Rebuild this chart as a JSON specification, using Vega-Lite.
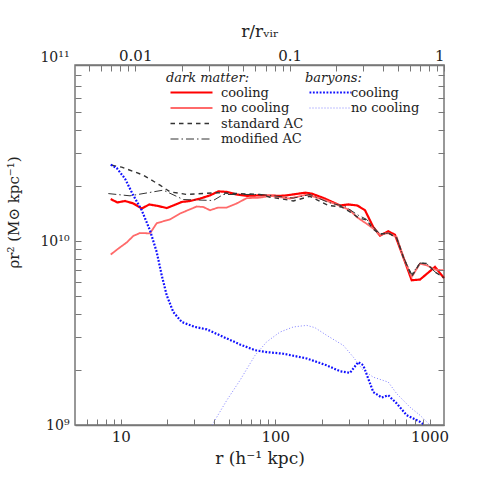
{
  "$schema": "https://vega.github.io/schema/vega-lite/v6.json",
  "width": 369,
  "height": 360,
  "autosize": "none",
  "padding": {"left": 75, "top": 65, "right": 41, "bottom": 60},
  "background": "white",
  "config": {
    "font": "DejaVu Serif",
    "view": {"stroke": "#777", "strokeWidth": 1.5},
    "axis": {"labelFont": "DejaVu Serif", "titleFont": "DejaVu Serif", "labelFontSize": 15, "titleFontSize": 17, "titleFontWeight": "normal", "labelColor": "#222", "titleColor": "#222", "grid": false, "labelOverlap": false},
    "legend": {"labelFont": "DejaVu Serif", "titleFont": "DejaVu Serif", "labelFontSize": 13, "titleFontSize": 13, "titleFontWeight": "normal", "titleFontStyle": "italic", "labelColor": "#222", "titleColor": "#222"}
  },
  "datasets": {
    "dm": [
      {"label": "cooling", "r": 8.6, "v": 1.69e10},
      {"label": "cooling", "r": 9.49, "v": 1.62e10},
      {"label": "cooling", "r": 10.65, "v": 1.65e10},
      {"label": "cooling", "r": 12.05, "v": 1.60e10},
      {"label": "cooling", "r": 13.66, "v": 1.50e10},
      {"label": "cooling", "r": 15.29, "v": 1.58e10},
      {"label": "cooling", "r": 17.49, "v": 1.55e10},
      {"label": "cooling", "r": 19.83, "v": 1.51e10},
      {"label": "cooling", "r": 21.88, "v": 1.56e10},
      {"label": "cooling", "r": 24.8, "v": 1.63e10},
      {"label": "cooling", "r": 28.07, "v": 1.65e10},
      {"label": "cooling", "r": 32.58, "v": 1.70e10},
      {"label": "cooling", "r": 37.82, "v": 1.77e10},
      {"label": "cooling", "r": 42.81, "v": 1.86e10},
      {"label": "cooling", "r": 48.52, "v": 1.85e10},
      {"label": "cooling", "r": 56.31, "v": 1.79e10},
      {"label": "cooling", "r": 65.38, "v": 1.76e10},
      {"label": "cooling", "r": 79.71, "v": 1.77e10},
      {"label": "cooling", "r": 107.4, "v": 1.76e10},
      {"label": "cooling", "r": 118.7, "v": 1.77e10},
      {"label": "cooling", "r": 156.0, "v": 1.83e10},
      {"label": "cooling", "r": 172.4, "v": 1.81e10},
      {"label": "cooling", "r": 210.2, "v": 1.70e10},
      {"label": "cooling", "r": 262.8, "v": 1.56e10},
      {"label": "cooling", "r": 297.5, "v": 1.58e10},
      {"label": "cooling", "r": 340.2, "v": 1.56e10},
      {"label": "cooling", "r": 381.6, "v": 1.47e10},
      {"label": "cooling", "r": 431.9, "v": 1.19e10},
      {"label": "cooling", "r": 477.3, "v": 1.07e10},
      {"label": "cooling", "r": 540.2, "v": 1.13e10},
      {"label": "cooling", "r": 597.0, "v": 1.08e10},
      {"label": "cooling", "r": 675.5, "v": 8.18e9},
      {"label": "cooling", "r": 765.9, "v": 6.12e9},
      {"label": "cooling", "r": 866.9, "v": 6.17e9},
      {"label": "cooling", "r": 1084, "v": 7.23e9},
      {"label": "cooling", "r": 1240, "v": 6.29e9},
      {"label": "no cooling", "r": 8.6, "v": 8.44e9},
      {"label": "no cooling", "r": 9.63, "v": 9.09e9},
      {"label": "no cooling", "r": 10.92, "v": 9.82e9},
      {"label": "no cooling", "r": 12.05, "v": 1.065e10},
      {"label": "no cooling", "r": 13.31, "v": 1.105e10},
      {"label": "no cooling", "r": 15.46, "v": 1.10e10},
      {"label": "no cooling", "r": 17.08, "v": 1.25e10},
      {"label": "no cooling", "r": 20.83, "v": 1.31e10},
      {"label": "no cooling", "r": 24.17, "v": 1.41e10},
      {"label": "no cooling", "r": 31.02, "v": 1.54e10},
      {"label": "no cooling", "r": 34.22, "v": 1.53e10},
      {"label": "no cooling", "r": 37.82, "v": 1.47e10},
      {"label": "no cooling", "r": 42.81, "v": 1.52e10},
      {"label": "no cooling", "r": 48.52, "v": 1.52e10},
      {"label": "no cooling", "r": 56.31, "v": 1.60e10},
      {"label": "no cooling", "r": 65.38, "v": 1.71e10},
      {"label": "no cooling", "r": 79.71, "v": 1.72e10},
      {"label": "no cooling", "r": 92.5, "v": 1.76e10},
      {"label": "no cooling", "r": 124.7, "v": 1.70e10},
      {"label": "no cooling", "r": 160.0, "v": 1.79e10},
      {"label": "no cooling", "r": 205.0, "v": 1.68e10},
      {"label": "no cooling", "r": 250.2, "v": 1.58e10},
      {"label": "no cooling", "r": 305.1, "v": 1.47e10},
      {"label": "no cooling", "r": 337.2, "v": 1.35e10},
      {"label": "no cooling", "r": 391.4, "v": 1.24e10},
      {"label": "no cooling", "r": 431.9, "v": 1.17e10},
      {"label": "no cooling", "r": 477.3, "v": 1.08e10},
      {"label": "no cooling", "r": 540.2, "v": 1.105e10},
      {"label": "no cooling", "r": 612.4, "v": 1.05e10},
      {"label": "no cooling", "r": 675.5, "v": 8.18e9},
      {"label": "no cooling", "r": 765.9, "v": 6.37e9},
      {"label": "no cooling", "r": 866.9, "v": 7.54e9},
      {"label": "no cooling", "r": 958, "v": 7.38e9},
      {"label": "no cooling", "r": 1084, "v": 6.99e9},
      {"label": "no cooling", "r": 1240, "v": 6.93e9},
      {"label": "standard AC", "r": 8.73, "v": 2.58e10},
      {"label": "standard AC", "r": 10.13, "v": 2.52e10},
      {"label": "standard AC", "r": 13.99, "v": 2.28e10},
      {"label": "standard AC", "r": 17.94, "v": 2.01e10},
      {"label": "standard AC", "r": 20.83, "v": 1.85e10},
      {"label": "standard AC", "r": 26.72, "v": 1.79e10},
      {"label": "standard AC", "r": 41.79, "v": 1.83e10},
      {"label": "standard AC", "r": 79.7, "v": 1.79e10},
      {"label": "standard AC", "r": 92.5, "v": 1.73e10},
      {"label": "standard AC", "r": 107.4, "v": 1.70e10},
      {"label": "standard AC", "r": 131.0, "v": 1.65e10},
      {"label": "standard AC", "r": 168.1, "v": 1.75e10},
      {"label": "standard AC", "r": 220.8, "v": 1.56e10},
      {"label": "standard AC", "r": 269.6, "v": 1.53e10},
      {"label": "standard AC", "r": 305.1, "v": 1.44e10},
      {"label": "standard AC", "r": 345.4, "v": 1.34e10},
      {"label": "standard AC", "r": 391.4, "v": 1.30e10},
      {"label": "standard AC", "r": 431.9, "v": 1.16e10},
      {"label": "standard AC", "r": 477.3, "v": 1.09e10},
      {"label": "standard AC", "r": 540.2, "v": 1.105e10},
      {"label": "standard AC", "r": 612.4, "v": 1.04e10},
      {"label": "standard AC", "r": 675.5, "v": 8.18e9},
      {"label": "standard AC", "r": 765.9, "v": 6.43e9},
      {"label": "standard AC", "r": 866.9, "v": 7.59e9},
      {"label": "standard AC", "r": 958, "v": 7.54e9},
      {"label": "standard AC", "r": 1084, "v": 6.79e9},
      {"label": "standard AC", "r": 1240, "v": 6.31e9},
      {"label": "modified AC", "r": 8.3, "v": 1.81e10},
      {"label": "modified AC", "r": 11.47, "v": 1.76e10},
      {"label": "modified AC", "r": 18.85, "v": 1.89e10},
      {"label": "modified AC", "r": 25.4, "v": 1.68e10},
      {"label": "modified AC", "r": 39.72, "v": 1.66e10},
      {"label": "modified AC", "r": 46.12, "v": 1.79e10},
      {"label": "modified AC", "r": 79.7, "v": 1.79e10},
      {"label": "modified AC", "r": 92.5, "v": 1.77e10},
      {"label": "modified AC", "r": 131.0, "v": 1.71e10},
      {"label": "modified AC", "r": 168.1, "v": 1.79e10},
      {"label": "modified AC", "r": 220.8, "v": 1.62e10},
      {"label": "modified AC", "r": 283.2, "v": 1.54e10},
      {"label": "modified AC", "r": 345.4, "v": 1.38e10},
      {"label": "modified AC", "r": 391.4, "v": 1.31e10},
      {"label": "modified AC", "r": 477.3, "v": 1.09e10},
      {"label": "modified AC", "r": 540.2, "v": 1.105e10},
      {"label": "modified AC", "r": 612.4, "v": 1.04e10},
      {"label": "modified AC", "r": 675.5, "v": 8.18e9},
      {"label": "modified AC", "r": 765.9, "v": 6.59e9},
      {"label": "modified AC", "r": 866.9, "v": 7.59e9},
      {"label": "modified AC", "r": 958, "v": 7.54e9},
      {"label": "modified AC", "r": 1084, "v": 6.79e9},
      {"label": "modified AC", "r": 1240, "v": 6.31e9}
    ],
    "bar": [
      {"label": "cooling", "r": 8.6, "v": 2.60e10},
      {"label": "cooling", "r": 9.41, "v": 2.49e10},
      {"label": "cooling", "r": 10.65, "v": 2.18e10},
      {"label": "cooling", "r": 12.05, "v": 1.77e10},
      {"label": "cooling", "r": 13.66, "v": 1.47e10},
      {"label": "cooling", "r": 15.46, "v": 1.14e10},
      {"label": "cooling", "r": 17.08, "v": 8.71e9},
      {"label": "cooling", "r": 18.41, "v": 6.51e9},
      {"label": "cooling", "r": 19.83, "v": 5.07e9},
      {"label": "cooling", "r": 21.88, "v": 4.11e9},
      {"label": "cooling", "r": 24.8, "v": 3.63e9},
      {"label": "cooling", "r": 30.24, "v": 3.41e9},
      {"label": "cooling", "r": 36.01, "v": 3.31e9},
      {"label": "cooling", "r": 43.9, "v": 3.07e9},
      {"label": "cooling", "r": 59.16, "v": 2.74e9},
      {"label": "cooling", "r": 74.0, "v": 2.55e9},
      {"label": "cooling", "r": 88.1, "v": 2.49e9},
      {"label": "cooling", "r": 112.9, "v": 2.44e9},
      {"label": "cooling", "r": 160.0, "v": 2.30e9},
      {"label": "cooling", "r": 215.6, "v": 2.11e9},
      {"label": "cooling", "r": 262.8, "v": 1.96e9},
      {"label": "cooling", "r": 305.1, "v": 1.92e9},
      {"label": "cooling", "r": 345.4, "v": 2.20e9},
      {"label": "cooling", "r": 372.0, "v": 2.11e9},
      {"label": "cooling", "r": 431.9, "v": 1.51e9},
      {"label": "cooling", "r": 489.5, "v": 1.41e9},
      {"label": "cooling", "r": 540.2, "v": 1.45e9},
      {"label": "cooling", "r": 612.4, "v": 1.31e9},
      {"label": "cooling", "r": 710.8, "v": 1.13e9},
      {"label": "cooling", "r": 866.9, "v": 1.04e9},
      {"label": "cooling", "r": 925, "v": 1.0e9},
      {"label": "no cooling", "r": 39, "v": 1.0e9},
      {"label": "no cooling", "r": 48.52, "v": 1.36e9},
      {"label": "no cooling", "r": 59.16, "v": 1.75e9},
      {"label": "no cooling", "r": 74.0, "v": 2.39e9},
      {"label": "no cooling", "r": 88.1, "v": 2.83e9},
      {"label": "no cooling", "r": 107.4, "v": 3.20e9},
      {"label": "no cooling", "r": 131.0, "v": 3.41e9},
      {"label": "no cooling", "r": 160.0, "v": 3.48e9},
      {"label": "no cooling", "r": 181.0, "v": 3.38e9},
      {"label": "no cooling", "r": 215.6, "v": 3.07e9},
      {"label": "no cooling", "r": 276.1, "v": 2.71e9},
      {"label": "no cooling", "r": 320.5, "v": 2.34e9},
      {"label": "no cooling", "r": 372.0, "v": 1.98e9},
      {"label": "no cooling", "r": 431.9, "v": 1.82e9},
      {"label": "no cooling", "r": 540.2, "v": 1.71e9},
      {"label": "no cooling", "r": 612.4, "v": 1.48e9},
      {"label": "no cooling", "r": 746.7, "v": 1.25e9},
      {"label": "no cooling", "r": 866.9, "v": 1.13e9},
      {"label": "no cooling", "r": 980.9, "v": 1.02e9},
      {"label": "no cooling", "r": 1010, "v": 1.0e9}
    ],
    "top": [{"rr": 0.01}, {"rr": 1}],
    "right": [{"v": 1e9}, {"v": 1e10}]
  },
  "layer": [
    {
      "data": {"name": "dm"},
      "mark": {"type": "line"},
      "encoding": {
        "x": {"field": "r", "type": "quantitative", "scale": {"type": "log", "domain": [5.05, 1240], "nice": false},
          "axis": {"orient": "bottom", "zindex": 1, "domainColor": "#777", "domainWidth": 1.5, "tickColor": "#777", "values": [6, 7, 8, 9, 10, 20, 30, 40, 50, 60, 70, 80, 90, 100, 200, 300, 400, 500, 600, 700, 800, 900, 1000],
            "labelExpr": "datum.value == 10 ? '10' : datum.value == 100 ? '100' : datum.value == 1000 ? '1000' : ''",
            "tickSize": -6,
            "labelPadding": 10, "title": "r  (h⁻¹  kpc)", "titlePadding": 6}},
        "y": {"field": "v", "type": "quantitative", "scale": {"type": "log", "domain": [1e9, 1e11], "range": [360, -8], "nice": false},
          "axis": {"orient": "left", "zindex": 1, "domainOpacity": 0, "tickColor": "#777", "values": [1e9, 2e9, 3e9, 4e9, 5e9, 6e9, 7e9, 8e9, 9e9, 1e10, 2e10, 3e10, 4e10, 5e10, 6e10, 7e10, 8e10, 9e10, 1e11],
            "labelExpr": "datum.value == 1e9 ? '10⁹' : datum.value == 1e10 ? '10¹⁰' : datum.value == 1e11 ? '10¹¹' : ''",
            "tickSize": -6,
            "tickOpacity": {"condition": {"test": "datum.value >= 1e11", "value": 0}, "value": 1},
            "labelFontSize": 14, "labelPadding": 12, "title": "ρr²  (M⊙ kpc⁻¹)", "titleFontSize": 15, "titleX": -62, "titleY": 147, "titleBaseline": "middle"}},
        "color": {"field": "label", "type": "nominal", "scale": {"domain": ["cooling", "no cooling", "standard AC", "modified AC"], "range": ["#ff0000", "#ff6a6a", "#333333", "#333333"]},
          "legend": {"title": "dark matter:", "orient": "none", "legendX": 91, "legendY": 7, "symbolType": "M-1,0H20", "symbolSize": 16, "labelOffset": 42, "titlePadding": 1, "rowPadding": 1.5}},
        "strokeDash": {"field": "label", "type": "nominal", "scale": {"domain": ["cooling", "no cooling", "standard AC", "modified AC"], "range": [[1, 0], [1, 0], [4.5, 4], [8, 3, 1.5, 3]]},
          "legend": {"title": "dark matter:", "orient": "none", "legendX": 91, "legendY": 7, "symbolType": "M-1,0H20", "symbolSize": 16, "labelOffset": 42, "titlePadding": 1, "rowPadding": 1.5}},
        "strokeWidth": {"field": "label", "type": "nominal", "scale": {"domain": ["cooling", "no cooling", "standard AC", "modified AC"], "range": [2.2, 1, 1, 1]},
          "legend": {"title": "dark matter:", "orient": "none", "legendX": 91, "legendY": 7, "symbolType": "M-1,0H20", "symbolSize": 16, "labelOffset": 42, "titlePadding": 1, "rowPadding": 1.5}}
      }
    },
    {
      "data": {"name": "bar"},
      "mark": {"type": "line"},
      "encoding": {
        "x": {"field": "r", "type": "quantitative", "scale": {"type": "log", "domain": [5.05, 1240], "nice": false}, "axis": null},
        "y": {"field": "v", "type": "quantitative", "scale": {"type": "log", "domain": [1e9, 1e11], "range": [360, -8], "nice": false}, "axis": null},
        "stroke": {"field": "label", "type": "nominal", "scale": {"domain": ["cooling", "no cooling"], "range": ["#1010ff", "#8080ff"]},
          "legend": {"title": "baryons:", "orient": "none", "legendX": 230, "legendY": 7, "symbolType": "M-1,0H20", "symbolSize": 16, "labelOffset": 33, "titlePadding": 1, "rowPadding": 1.5}},
        "strokeDash": {"field": "label", "type": "nominal", "scale": {"domain": ["cooling", "no cooling"], "range": [[1.8, 1.6], [1, 2]]},
          "legend": {"title": "baryons:", "orient": "none", "legendX": 230, "legendY": 7, "symbolType": "M-1,0H20", "symbolSize": 16, "labelOffset": 33, "titlePadding": 1, "rowPadding": 1.5}},
        "strokeWidth": {"field": "label", "type": "nominal", "scale": {"domain": ["cooling", "no cooling"], "range": [2.2, 1]},
          "legend": {"title": "baryons:", "orient": "none", "legendX": 230, "legendY": 7, "symbolType": "M-1,0H20", "symbolSize": 16, "labelOffset": 33, "titlePadding": 1, "rowPadding": 1.5}}
      }
    },
    {
      "data": {"name": "top"},
      "mark": {"type": "point", "opacity": 0},
      "encoding": {
        "x": {"field": "rr", "type": "quantitative", "scale": {"type": "log", "domain": [0.004073, 1], "nice": false},
          "axis": {"orient": "top", "zindex": 1, "domainColor": "#777", "domainWidth": 1.5, "tickColor": "#777", "values": [0.005, 0.006, 0.007, 0.008, 0.009, 0.01, 0.02, 0.03, 0.04, 0.05, 0.06, 0.07, 0.08, 0.09, 0.1, 0.2, 0.3, 0.4, 0.5, 0.6, 0.7, 0.8, 0.9, 1],
            "labelExpr": "datum.value == 0.01 ? '0.01' : datum.value == 0.1 ? '0.1' : datum.value == 1 ? '1' : ''",
            "tickSize": -6,
            "labelPadding": 8, "title": "r/rᵥᵢᵣ", "titlePadding": 8}}
      }
    },
    {
      "data": {"name": "right"},
      "mark": {"type": "point", "opacity": 0},
      "encoding": {
        "y": {"field": "v", "type": "quantitative", "scale": {"type": "log", "domain": [1e9, 1e11], "range": [360, -8], "nice": false},
          "axis": {"orient": "right", "zindex": 1, "domainOpacity": 0, "tickColor": "#777", "values": [1e9, 2e9, 3e9, 4e9, 5e9, 6e9, 7e9, 8e9, 9e9, 1e10, 2e10, 3e10, 4e10, 5e10, 6e10, 7e10, 8e10, 9e10],
            "labels": false, "title": null,
            "tickSize": -6}}
      }
    }
  ],
  "resolve": {"scale": {"x": "independent", "y": "independent", "color": "independent", "stroke": "independent", "strokeDash": "independent", "strokeWidth": "independent"}}
}
